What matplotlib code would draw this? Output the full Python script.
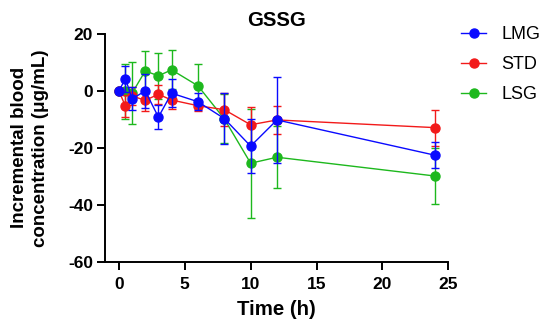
import matplotlib
matplotlib.use("Agg")
from matplotlib import pyplot as plt

# data (mean, SD)
time = [0, 0.5, 1, 2, 3, 4, 6, 8, 10, 12, 24]
lmg = [0, 4.3, -2.8, 0.0, -9.2, -0.8, -3.8, -9.7, -19.4, -10.2, -22.6]
lmg_sd = [0, 4.6, 4.0, 6.0, 4.2, 5.0, 3.0, 9.0, 9.6, 15.0, 4.5]
std = [0, -5.4, -1.8, -3.3, -1.2, -3.2, -5.2, -6.6, -11.9, -10.2, -12.9]
std_sd = [0, 3.8, 3.0, 3.9, 3.4, 3.0, 2.0, 5.8, 6.4, 5.0, 6.3]
lsg = [0, -0.2, -0.8, 7.0, 5.3, 7.4, 1.8, -9.8, -25.4, -23.3, -29.9]
lsg_sd = [0, 9.8, 11.0, 7.1, 8.0, 6.9, 7.5, 8.6, 19.2, 10.8, 9.9]

x_ticks = [0, 5, 10, 15, 20, 25]
y_ticks = [-60, -40, -20, 0, 20]

plt.rcParams['font.family'] = ['Liberation Sans', 'DejaVu Sans']
plt.rcParams['axes.unicode_minus'] = False

fig = plt.figure(figsize=(5.5, 3.32), dpi=100)
ax = fig.add_axes([0.191, 0.2117, 0.624, 0.686])

series = [
    ('LSG', lsg, lsg_sd, '#1db81d', 2),
    ('STD', std, std_sd, '#f21a1a', 3),
    ('LMG', lmg, lmg_sd, '#0a0aff', 4),
]
handles = {}
for name, vals, sd, col, z in series:
    eb = ax.errorbar(time, vals, yerr=sd, color=col, marker='o', ms=6.5,
                     lw=1.0, elinewidth=1.0, capsize=3.2, capthick=1.0,
                     zorder=z, clip_on=False)
    handles[name] = eb[0]

ax.set_xlim(-1.05, 25)
ax.set_ylim(-60, 20)
ax.set_xticks(x_ticks)
ax.set_yticks(y_ticks)
for s in ['top', 'right']:
    ax.spines[s].set_visible(False)
for s in ['left', 'bottom']:
    ax.spines[s].set_linewidth(1.4)
ax.tick_params(width=1.4, length=6, labelsize=12.5)
ax.tick_params(axis='x', pad=5)
ax.tick_params(axis='y', pad=2.5)
for lab in ax.get_xticklabels() + ax.get_yticklabels():
    lab.set_fontweight('bold')

ax.set_title('GSSG', fontsize=14.7, fontweight='bold', pad=6)
ax.set_xlabel('Time (h)', fontsize=14.7, fontweight='bold', labelpad=6)
ax.set_ylabel('Incremental blood\nconcentration (μg/mL)', fontsize=13.5,
              fontweight='bold', linespacing=1.25, labelpad=14)

ax.legend([handles['LMG'], handles['STD'], handles['LSG']], ['LMG', 'STD', 'LSG'],
          loc='upper left', bbox_to_anchor=(0.838, 0.921), bbox_transform=fig.transFigure,
          frameon=False, fontsize=13, handlelength=1.4, handletextpad=0.85,
          labelspacing=0.72, borderpad=0, borderaxespad=0)

plt.savefig('out.png', dpi=100)
plt.close()
